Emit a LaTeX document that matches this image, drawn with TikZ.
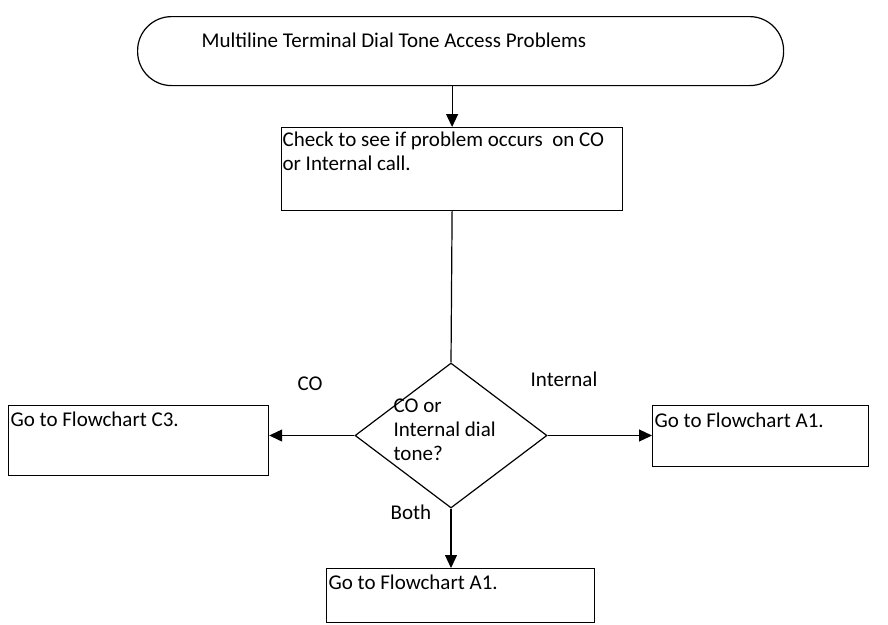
\documentclass[tikz,border=0pt]{standalone}
\usepackage{fontspec}
\setmainfont{Carlito}
\usetikzlibrary{shapes.geometric,arrows.meta}

\begin{document}
\begin{tikzpicture}[x=1pt,y=-1pt,
  line width=1.2pt,
  every node/.style={font=\fontsize{21}{24}\selectfont},
  boxnode/.style={draw, rectangle, inner sep=0pt, anchor=north west},
  txt/.style={anchor=base west, align=left, inner sep=0pt},
  lbl/.style={inner sep=0pt},
  arr/.style={-{Triangle[length=13pt,width=12pt]}}
]
\useasboundingbox (0,0) rectangle (888,624);

% start terminator
\node[draw, rectangle, rounded corners=34pt, minimum width=646pt, minimum height=69pt,
      inner sep=0pt, anchor=north west] (term) at (137,16) {};
\node[txt] (termt) at (201,47) {Multiline Terminal Dial Tone Access Problems};

% check step (multi-line text: base anchor sits on the last line)
\node[boxnode, minimum width=341pt, minimum height=83pt] (check) at (281,127) {};
\node[txt] (checkt) at (282,170.5) {Check to see if problem occurs\ \ on CO\\or Internal call.};

% decision
\node[draw, diamond, inner sep=0pt, minimum width=192pt, minimum height=145pt] (dia) at (451,435.5) {};
\node[txt] (diat) at (393,460.5) {CO or\\Internal dial\\tone?};

% outcomes
\node[boxnode, minimum width=260pt, minimum height=70pt] (c3) at (8,405) {};
\node[txt] (c3t) at (10,426.5) {Go to Flowchart C3.};

\node[boxnode, minimum width=216pt, minimum height=61pt] (a1r) at (652,405) {};
\node[txt] (a1rt) at (654,427) {Go to Flowchart A1.};

\node[boxnode, minimum width=268pt, minimum height=54pt] (a1b) at (326,568) {};
\node[txt] (a1bt) at (328,589.5) {Go to Flowchart A1.};

% branch labels
\node[lbl] (lco) at (310,384) {CO};
\node[lbl] (lint) at (564,379) {Internal};
\node[lbl] (lboth) at (411,512) {Both};

% connectors
\draw[arr] (check.north |- term.south) -- (check.north);
\draw (check.south) -- (dia.north);
\draw[arr] (dia.west) -- (dia.west -| c3.east);
\draw[arr] (dia.east) -- (dia.east -| a1r.west);
\draw[arr] (dia.south) -- (dia.south |- a1b.north);
\end{tikzpicture}
\end{document}
